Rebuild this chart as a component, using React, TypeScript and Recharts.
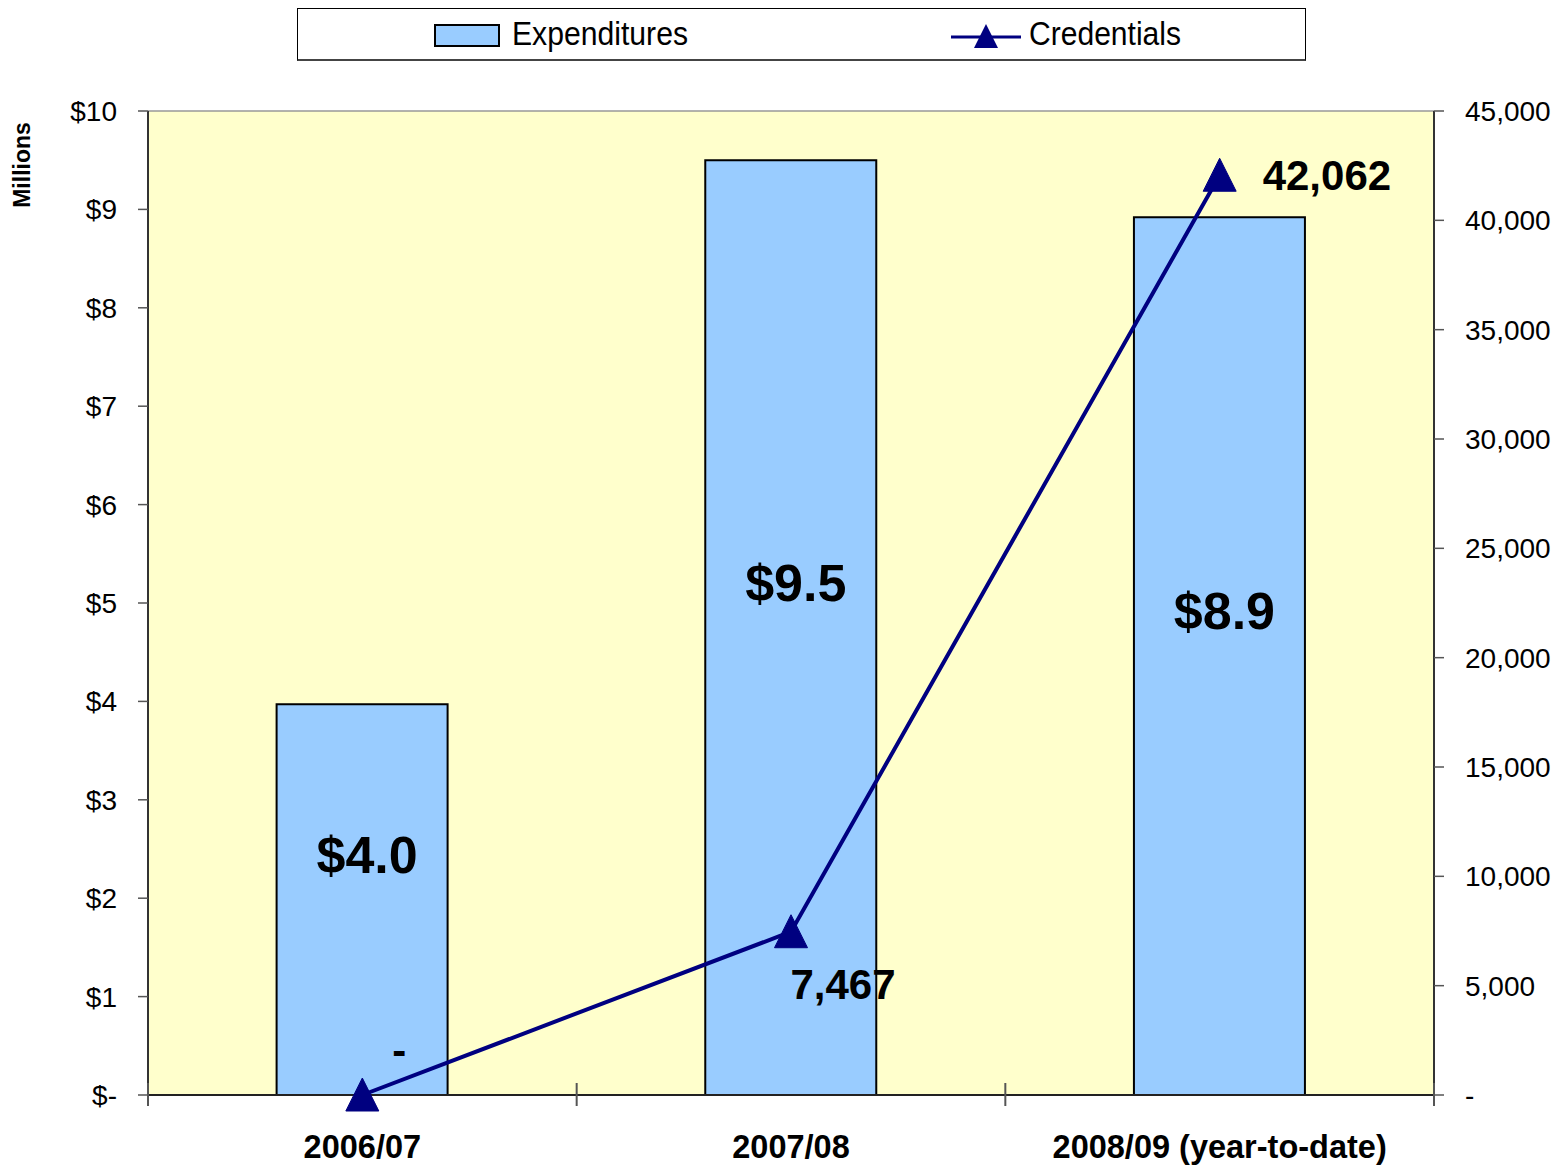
import React from 'react';
import {
  ComposedChart,
  Bar,
  Line,
  XAxis,
  YAxis,
  CartesianGrid,
  LabelList,
  ReferenceLine,
} from 'recharts';

const categories = ['2006/07', '2007/08', '2008/09 (year-to-date)'];
const expenditures = [3.97, 9.5, 8.92];
const credentials = [0, 7467, 42062];
const leftTicks = [0, 1, 2, 3, 4, 5, 6, 7, 8, 9, 10];
const rightTicks = [0, 5000, 10000, 15000, 20000, 25000, 30000, 35000, 40000, 45000];

const data = categories.map((category, i) => ({
  category,
  expenditures: expenditures[i],
  credentials: credentials[i],
}));

const FONT = '"Liberation Sans", Arial, Helvetica, sans-serif';
const NAVY = '#000080';
const BAR_FILL = '#99CCFF';

const fmtMoney = (v: number) => (v === 0 ? '$-' : `$${v}`);
const fmtCount = (v: number) => (v === 0 ? '-' : v.toLocaleString('en-US'));

const CategoryTick = (props: any) => {
  const { x, y, payload, index, visibleTicksCount } = props;
  const half = payload && typeof payload.offset === 'number' ? payload.offset : 0;
  const last = index === (visibleTicksCount ?? categories.length) - 1;
  return (
    <g>
      <line x1={x - half} x2={x - half} y1={y - 12} y2={y + 11} stroke="#555" strokeWidth={2} />
      {last && (
        <line x1={x + half} x2={x + half} y1={y - 12} y2={y + 11} stroke="#555" strokeWidth={2} />
      )}
      <text
        x={x}
        y={y + 63}
        textAnchor="middle"
        fontFamily={FONT}
        fontWeight="bold"
        fontSize={32.5}
        fill="#000"
      >
        {payload.value}
      </text>
    </g>
  );
};

const TriangleDot = (props: any) => {
  const { cx, cy, index } = props;
  if (cx == null || cy == null) return <g key={`d${index}`} />;
  return (
    <path
      key={`d${index}`}
      d={`M${cx},${cy - 17} L${cx + 16.5},${cy + 16} L${cx - 16.5},${cy + 16} Z`}
      fill={NAVY}
      stroke={NAVY}
      strokeWidth={1}
    />
  );
};

const BarLabel = (props: any) => {
  const { x, y, width, height, value } = props;
  if (value == null) return null;
  return (
    <text
      x={x + width / 2 + 5}
      y={y + height / 2 - 45}
      textAnchor="middle"
      dominantBaseline="central"
      fontFamily={FONT}
      fontWeight="bold"
      fontSize={52}
      fill="#000"
    >
      {`$${Number(value).toFixed(1)}`}
    </text>
  );
};

const LineLabel = (props: any) => {
  const { x, y, value, index } = props;
  if (value == null) return null;
  const text = fmtCount(Number(value));
  let tx = x;
  let ty = y;
  let anchor: 'start' | 'middle' = 'middle';
  if (index === 0) {
    tx = x + 37;
    ty = y - 45;
  } else if (index === 1) {
    tx = x + 52;
    ty = y + 53;
  } else {
    tx = x + 43;
    ty = y;
    anchor = 'start';
  }
  return (
    <text
      x={tx}
      y={ty}
      textAnchor={anchor}
      dominantBaseline="central"
      fontFamily={FONT}
      fontWeight="bold"
      fontSize={42}
      fill="#000"
    >
      {text}
    </text>
  );
};

const LegendBox = () => (
  <div
    style={{
      position: 'absolute',
      left: 297,
      top: 8,
      width: 1009,
      height: 53,
      boxSizing: 'border-box',
      border: '1px solid #000',
      borderBottom: '2px solid #444',
      background: '#fff',
    }}
  >
    <svg width={1007} height={50} style={{ display: 'block' }}>
      <rect x={137} y={16} width={64} height={21} fill={BAR_FILL} stroke="#000" strokeWidth={2} />
      <text
        x={214}
        y={36}
        fontFamily={FONT}
        fontSize={34}
        textLength={176}
        lengthAdjust="spacingAndGlyphs"
        fill="#000"
      >
        Expenditures
      </text>
      <line x1={653} x2={723} y1={28} y2={28} stroke={NAVY} strokeWidth={3} />
      <path d="M688,15 L700,39 L676,39 Z" fill={NAVY} />
      <text
        x={731}
        y={36}
        fontFamily={FONT}
        fontSize={34}
        textLength={152}
        lengthAdjust="spacingAndGlyphs"
        fill="#000"
      >
        Credentials
      </text>
    </svg>
  </div>
);

export default function App() {
  return (
    <div style={{ position: 'absolute', left: 0, top: 0, width: 1561, height: 1171, background: '#fff' }}>
      <ComposedChart
        width={1561}
        height={1171}
        data={data}
        margin={{ top: 111, right: 17, bottom: 0, left: 88 }}
        barCategoryGap="30%"
      >
        <CartesianGrid
          yAxisId="left"
          horizontal={false}
          vertical={false}
          fill="#FFFFCC"
          fillOpacity={1}
        />
        <XAxis
          dataKey="category"
          type="category"
          height={76}
          tickLine={false}
          tickSize={0}
          tickMargin={0}
          axisLine={{ stroke: '#222', strokeWidth: 2 }}
          tick={CategoryTick}
          interval={0}
        />
        <YAxis
          yAxisId="left"
          orientation="left"
          width={60}
          domain={[0, 10]}
          ticks={leftTicks}
          tickFormatter={fmtMoney}
          tickSize={10}
          tickMargin={21}
          axisLine={{ stroke: '#333', strokeWidth: 2 }}
          tickLine={{ stroke: '#555', strokeWidth: 1.5 }}
          tick={{ fontSize: 28, fill: '#000', fontFamily: FONT }}
          interval={0}
        />
        <YAxis
          yAxisId="right"
          orientation="right"
          width={110}
          domain={[0, 45000]}
          ticks={rightTicks}
          tickFormatter={fmtCount}
          tickSize={10}
          tickMargin={21}
          axisLine={{ stroke: '#333', strokeWidth: 2 }}
          tickLine={{ stroke: '#555', strokeWidth: 1.5 }}
          tick={{ fontSize: 28, fill: '#000', fontFamily: FONT }}
          interval={0}
        />
        <ReferenceLine yAxisId="left" y={10} stroke="#999" strokeWidth={1.5} />
        <Bar
          yAxisId="left"
          dataKey="expenditures"
          fill={BAR_FILL}
          stroke="#000"
          strokeWidth={2}
          isAnimationActive={false}
        >
          <LabelList dataKey="expenditures" content={BarLabel} />
        </Bar>
        <Line
          yAxisId="right"
          dataKey="credentials"
          type="linear"
          stroke={NAVY}
          strokeWidth={4}
          dot={TriangleDot}
          activeDot={false}
          isAnimationActive={false}
        >
          <LabelList dataKey="credentials" content={LineLabel} />
        </Line>
      </ComposedChart>
      <LegendBox />
      <div
        style={{
          position: 'absolute',
          left: 22,
          top: 165,
          transform: 'translate(-50%, -50%) rotate(-90deg)',
          fontFamily: FONT,
          fontWeight: 'bold',
          fontSize: 23,
          whiteSpace: 'nowrap',
          color: '#000',
        }}
      >
        Millions
      </div>
    </div>
  );
}
